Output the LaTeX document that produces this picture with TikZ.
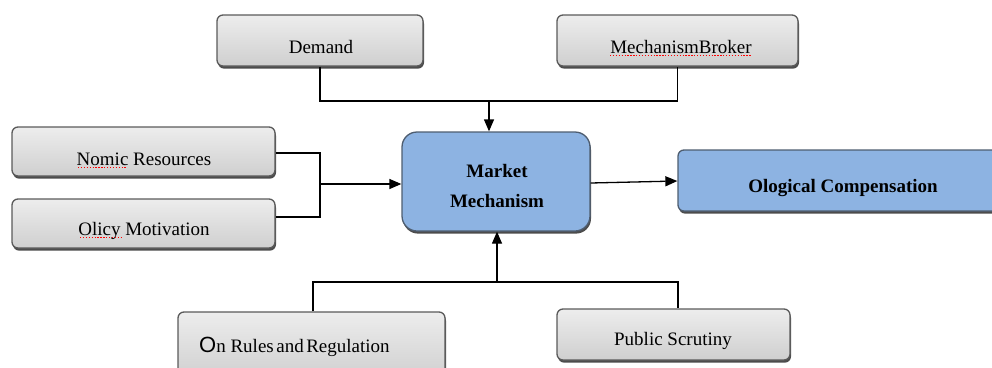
\documentclass[tikz,border=0pt]{standalone}
\usepackage{fontspec}
\setmainfont{Liberation Serif}
\newfontfamily\arialfont{Liberation Sans}
\usetikzlibrary{arrows.meta,shadows}
\definecolor{boxblue}{HTML}{8DB3E2}
\definecolor{blueedge}{HTML}{4E5D70}
\definecolor{grayedge}{HTML}{5A5A5A}
\definecolor{graytop}{HTML}{EDEDED}
\definecolor{graybot}{HTML}{CFCFCF}
\tikzset{
  boxshadow/.style={drop shadow={shadow xshift=1pt,shadow yshift=-2.6pt,fill=black!70,opacity=1}},
  graybox/.style={draw=grayedge,line width=1.3pt,rounded corners=6pt,
    top color=graytop,bottom color=graybot,boxshadow,inner sep=0pt},
  bluebox/.style={draw=blueedge,line width=1.3pt,fill=boxblue,boxshadow,inner sep=0pt},
  label/.style={anchor=base,inner sep=0pt,font=\fontsize{19}{22}\selectfont},
  boldlabel/.style={label,font=\fontsize{19}{22}\selectfont\bfseries},
  link/.style={line width=1.3pt,draw=black},
  arrowlink/.style={link,-{Triangle[length=12pt,width=10pt]}},
  squiggle/.style={draw=red,line width=0.9pt,dash pattern=on 1.3pt off 1.6pt}
}
\begin{document}
\begin{tikzpicture}[x=1pt,y=-1pt]
\useasboundingbox (0,0) rectangle (992,367);
\clip (0,0) rectangle (992,367);

% boxes
\node[graybox,minimum width=206pt,minimum height=51pt] (demand) at (320,40.5) {};
\node[graybox,minimum width=241pt,minimum height=51pt] (broker) at (677.5,40.5) {};
\node[graybox,minimum width=263pt,minimum height=49pt] (nomic) at (143.5,151.5) {};
\node[graybox,minimum width=263pt,minimum height=49pt] (olicy) at (143.5,223.5) {};
\node[bluebox,rounded corners=15pt,minimum width=188pt,minimum height=99pt] (market) at (496,181.5) {};
\node[bluebox,rounded corners=6pt,minimum width=332pt,minimum height=61pt] (ologic) at (844,180.5) {};
\node[graybox,minimum width=267pt,minimum height=68pt] (rules) at (311.5,346) {};
\node[graybox,minimum width=233pt,minimum height=51pt] (public) at (673.5,334.5) {};

% texts
\node[label] (tdemand) at (321,53) {Demand};
\node[label] (tbroker) at (681,53) {MechanismBroker};
\node[label] (tnomic) at (144,165) {Nomic Resources};
\node[label] (tolicy) at (144,235) {Olicy Motivation};
\node[boldlabel] (tmarket1) at (497,177) {Market};
\node[boldlabel] (tmarket2) at (497,207) {Mechanism};
\node[boldlabel] (tologic) at (843,192) {Ological Compensation};
\node[label,anchor=base west] (trules) at (199,352) {{\arialfont\fontsize{22}{24}\selectfont O}n Rules\hspace{2.5pt}and\hspace{2.5pt}Regulation};
\node[label] (tpublic) at (673,345) {Public Scrutiny};

% spelling marks under words
\draw[squiggle] (610,55.5) -- (752,55.5);
\draw[squiggle] (78,167.5) -- (127,167.5);
\draw[squiggle] (80,237.5) -- (121,237.5);

% junction points
\coordinate (topjoin) at (489,101);
\coordinate (leftjoin) at (320,184);
\coordinate (botjoin) at (497,282);

% top connector
\draw[link] (demand.south) -- (320,101) -- (677.5,101) -- (broker.south);
\draw[arrowlink] (topjoin) -- (topjoin |- market.north);

% left connector
\draw[link] (nomic.east |- 0,153) -- (320,153) -- (320,217) -- (olicy.east |- 0,217);
\draw[arrowlink] (leftjoin) -- (leftjoin -| market.west);

% right arrow
\draw[arrowlink] (market.east |- 0,183) -- (ologic.west |- 0,181);

% bottom connector
\draw[link] (rules.north -| 313,0) -- (313,282) -- (678,282) -- (public.north -| 678,0);
\draw[arrowlink] (botjoin) -- (botjoin |- market.south);
\end{tikzpicture}
\end{document}
